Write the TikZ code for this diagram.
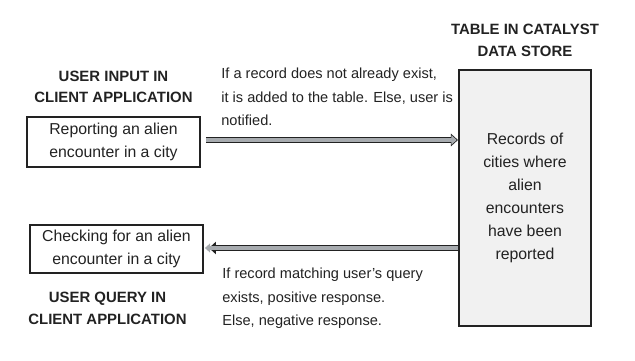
\documentclass[tikz,border=0pt]{standalone}
\usepackage{fontspec}
\setmainfont{Liberation Sans}
\usetikzlibrary{arrows.meta,positioning}
\definecolor{storegray}{HTML}{F1F1F1}
\definecolor{shaftgray}{HTML}{A7ABAF}
\definecolor{inkgray}{HTML}{222222}

\begin{document}
\begin{tikzpicture}[
  x=0.02cm, y=-0.02cm,
  box/.style={draw=inkgray, thick, align=center, inner sep=2pt,
    font=\fontsize{9}{13}\selectfont, text=inkgray},
  heading/.style={align=center, inner sep=0pt,
    font=\fontsize{8.5}{12.4}\selectfont\bfseries, text=inkgray},
  note/.style={align=left, anchor=north west, inner sep=0pt,
    font=\fontsize{8.3}{13.2}\selectfont, text=inkgray},
  flow/.style={draw=inkgray, line width=3.4pt,
    -{Triangle[length=4pt, width=7pt]},
    postaction={draw=shaftgray, line width=2.2pt, shorten >=0.7pt,
      -{Triangle[length=3pt, width=5.2pt]}}},
  node distance=0.40cm
]
\useasboundingbox (0,0) rectangle (635,361);
% data store on the right
\node[box, very thick, fill=storegray, minimum width=2.64cm, minimum height=5.12cm] (store)
  at (525,198) {Records of\\cities where\\alien\\encounters\\have been\\reported};
\node[heading, above=0.24cm of store] (storehead)
  {TABLE IN CATALYST\\DATA STORE};
% client side
\node[box, minimum width=3.46cm, minimum height=1cm] (report)
  at (113.5,142) {Reporting an alien\\encounter in a city};
\node[heading, above=0.26cm of report] (inputhead)
  {USER INPUT IN\\CLIENT APPLICATION};
\node[box, minimum width=3.46cm, minimum height=0.96cm] (check)
  at (116.5,249) {Checking for an alien\\encounter in a city};
\node[heading, below=0.36cm of check, xshift=-0.18cm] (queryhead)
  {USER QUERY IN\\CLIENT APPLICATION};
% flows between client and store
\draw[flow, shorten <=3pt] (report.east |- 0,140) -- (store.west |- 0,140);
\draw[flow, shorten >=3pt] (store.west |- 0,248) -- (check.east |- 0,248);
\node[note] (addnote) at (221,68)
  {If a record does not already exist,\\it is added to the table. Else, user is\\notified.};
\node[note] (querynote) at (222,268)
  {If record matching user's query\\exists, positive response.\\Else, negative response.};
\end{tikzpicture}
\end{document}
